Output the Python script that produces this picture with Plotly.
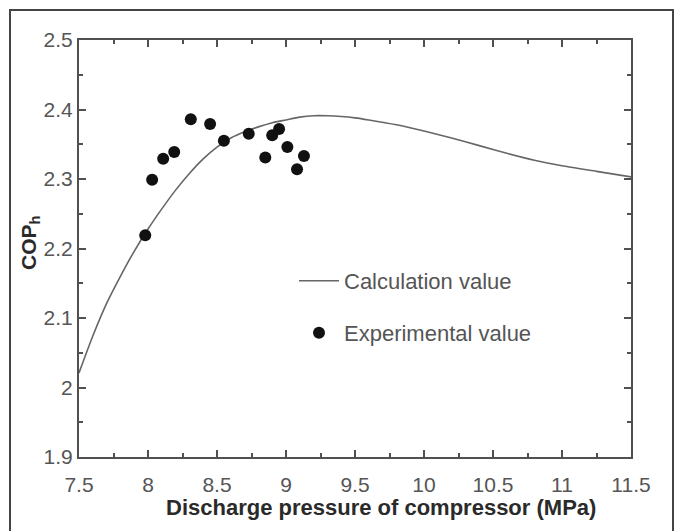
import plotly.graph_objects as go

# Calculation curve
calc_x = [7.5, 7.6, 7.7, 7.8, 7.9, 8.0, 8.1, 8.2, 8.3, 8.4, 8.5, 8.6, 8.7, 8.8, 8.9, 9.0, 9.1, 9.2, 9.3,
          9.4, 9.5, 9.6, 9.8, 10.0, 10.2, 10.4, 10.6, 10.8, 11.0, 11.25, 11.5]
calc_y = [2.021, 2.074, 2.121, 2.160, 2.196, 2.228, 2.257, 2.284, 2.308, 2.329, 2.346, 2.359, 2.368, 2.375,
          2.381, 2.385, 2.389, 2.391, 2.391, 2.390, 2.388, 2.385, 2.378, 2.369, 2.359, 2.348, 2.337, 2.327,
          2.319, 2.311, 2.303]

# Experimental points
exp_x = [7.98, 8.03, 8.11, 8.19, 8.31, 8.45, 8.55, 8.73, 8.85, 8.90, 8.95, 9.01, 9.08, 9.13]
exp_y = [2.219, 2.299, 2.329, 2.339, 2.386, 2.379, 2.355, 2.365, 2.331, 2.363, 2.372, 2.346, 2.314, 2.333]

x_title = "Discharge pressure of compressor (MPa)"
y_title = "COP<sub>h</sub>"
calc_name = "Calculation value"
exp_name = "Experimental value"

FONT = "Liberation Sans, Arial, sans-serif"
AX = "#505050"

fig = go.Figure()
fig.add_trace(go.Scatter(
    x=calc_x, y=calc_y, mode="lines", name=calc_name,
    line=dict(color="#666666", width=1.6, shape="spline", smoothing=0.6),
    legend="legend",
))
fig.add_trace(go.Scatter(
    x=exp_x, y=exp_y, mode="markers", name=exp_name,
    marker=dict(color="#111111", size=12),
    legend="legend2",
))

axis_common = dict(
    showgrid=False, zeroline=False, showline=True, linewidth=2, linecolor=AX,
    mirror="ticks", ticks="inside", ticklen=7, tickwidth=1.5, tickcolor=AX,
    tickfont=dict(family=FONT, size=21, color="#555555"),
    automargin=False,
)

fig.update_xaxes(range=[7.5, 11.5], tick0=7.5, dtick=0.5, ticklabelstandoff=8,
                 minor=dict(dtick=0.25, ticks="inside", ticklen=4, tickwidth=1.5, tickcolor=AX),
                 **axis_common)
fig.update_yaxes(range=[1.9, 2.5], tick0=1.9, dtick=0.1,
                 minor=dict(dtick=0.05, ticks="inside", ticklen=4, tickwidth=1.5, tickcolor=AX),
                 **axis_common)

W, H = 682, 531
L, R, T, B = 79, 51, 40, 74
pw, ph = W - L - R, H - T - B

def px(xp):
    return (xp - L) / pw

def py(yp):
    return (H - B - yp) / ph

leg_font = dict(family=FONT, size=22, color="#555555")
fig.update_layout(
    width=W, height=H,
    margin=dict(l=L, r=R, t=T, b=B),
    paper_bgcolor="white", plot_bgcolor="white",
    showlegend=True,
    legend=dict(x=px(294), y=py(281), xanchor="left", yanchor="middle",
                bgcolor="rgba(0,0,0,0)", font=leg_font, itemwidth=40),
    legend2=dict(x=px(294), y=py(333), xanchor="left", yanchor="middle",
                 bgcolor="rgba(0,0,0,0)", font=leg_font, itemwidth=40),
    annotations=[
        dict(text=x_title, xref="paper", yref="paper", x=px(381), y=py(508),
             xanchor="center", yanchor="middle", showarrow=False,
             font=dict(family=FONT, size=22, color="#2a2a2a", weight="bold")),
        dict(text=y_title, xref="paper", yref="paper", x=px(30), y=py(243),
             xanchor="center", yanchor="middle", showarrow=False, textangle=-90,
             font=dict(family=FONT, size=21, color="#2a2a2a", weight="bold")),
    ],
    shapes=[
        dict(type="rect", xref="paper", yref="paper",
             x0=px(10), x1=px(673), y0=py(540), y1=py(10),
             line=dict(color="#444444", width=2), fillcolor="rgba(0,0,0,0)", layer="below"),
    ],
)

fig.write_html("out.html", config={"displayModeBar": False},
               post_script="document.body.style.margin='0';")
